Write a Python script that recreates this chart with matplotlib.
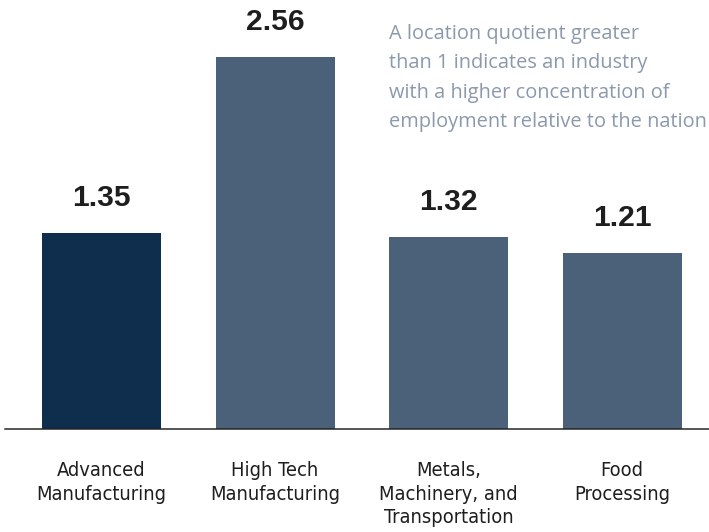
import matplotlib.pyplot as plt

# location quotients by industry cluster
categories = ['Advanced\nManufacturing', 'High Tech\nManufacturing',
              'Metals,\nMachinery, and\nTransportation', 'Food\nProcessing']
values = [1.35, 2.56, 1.32, 1.21]
value_labels = ['1.35', '2.56', '1.32', '1.21']
bar_colors = ['#0f2d4d', '#4a6179', '#4a6179', '#4a6179']
note = ('A location quotient greater\n'
        'than 1 indicates an industry\n'
        'with a higher concentration of\n'
        'employment relative to the nation')

DPI = 72
fig = plt.figure(figsize=(709 / DPI, 532 / DPI), dpi=DPI)
ax = fig.add_axes([5 / 709, 103 / 532, 704 / 709, 429 / 532])

x = range(len(values))
ax.bar(x, values, width=0.686, color=bar_colors)
ax.set_xlim(-0.556, 3.50)
ax.set_ylim(0, 2.952)

for xi, v, lab in zip(x, values, value_labels):
    ax.annotate(lab, (xi, v), xytext=(0, 35), textcoords='offset points',
                ha='center', va='center', fontsize=30, fontweight='bold',
                family=['Liberation Sans', 'DejaVu Sans'], color='#1e1e1e')

# category labels below the baseline
for xi, cat in zip(x, categories):
    ax.annotate(cat, (xi, 0), xytext=(0, -32), textcoords='offset points',
                ha='center', va='top', fontsize=20, linespacing=1.3,
                family=['DejaVu Sans'], fontstretch='condensed',
                color='#1e1e1e', annotation_clip=False)

ax.text(389 / 709, 1 - 24 / 532, note, transform=fig.transFigure,
        ha='left', va='top', fontsize=20, linespacing=1.62,
        family=['Open Sans', 'Liberation Sans', 'DejaVu Sans'], color='#8c99ad')

for s in ['top', 'right', 'left']:
    ax.spines[s].set_visible(False)
ax.spines['bottom'].set_color('#222222')
ax.spines['bottom'].set_linewidth(1.5)
ax.set_xticks([])
ax.set_yticks([])

fig.savefig('out.png', dpi=DPI)
